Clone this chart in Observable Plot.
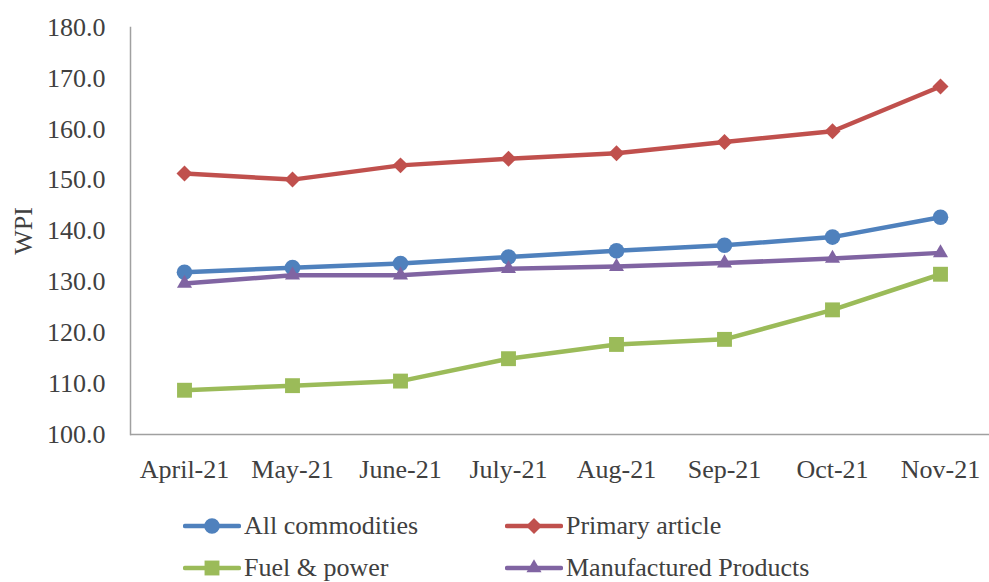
<!DOCTYPE html>
<html>
<head>
<meta charset="utf-8">
<script src="https://cdn.jsdelivr.net/npm/d3@7"></script>
<script src="https://cdn.jsdelivr.net/npm/@observablehq/plot@0.6"></script>
<style>
  html, body { margin: 0; padding: 0; background: #fff; }
  body { width: 989px; height: 582px; overflow: hidden; font-family: "Liberation Serif", serif; color: #404040; }
  #legend { display: grid; grid-template-columns: 322px 322px; grid-auto-rows: 42px; padding-left: 183px; margin-top: 15px; }
  .item { display: flex; align-items: center; font-size: 26px; line-height: 30px; white-space: nowrap; }
  .item svg { flex: none; margin-right: 3px; }
</style>
</head>
<body>
<div id="chart"></div>
<div id="legend"></div>
<script>
// ---- data ----
const months = ["April-21", "May-21", "June-21", "July-21", "Aug-21", "Sep-21", "Oct-21", "Nov-21"];
const allCommodities = [131.9, 132.8, 133.6, 134.9, 136.1, 137.2, 138.8, 142.7];
const primaryArticle = [151.3, 150.1, 152.9, 154.2, 155.3, 157.5, 159.6, 168.4];
const fuelPower      = [108.7, 109.6, 110.5, 114.9, 117.7, 118.7, 124.5, 131.5];
const manufactured   = [129.7, 131.3, 131.3, 132.6, 133.0, 133.7, 134.6, 135.7];
const seriesNames = ["All commodities", "Primary article", "Fuel & power", "Manufactured Products"];
const yTicks = [100, 110, 120, 130, 140, 150, 160, 170, 180];

// ---- styling ----
const colors  = ["#4F81BD", "#C0504D", "#9BBB59", "#8064A2"];
const symbols = ["circle", "diamond2", "square", "triangle"];
const radii   = [7.8, 7.2, 8.4, 5.6];
const d3Symbols = { circle: d3.symbolCircle, diamond2: d3.symbolDiamond2, square: d3.symbolSquare, triangle: d3.symbolTriangle };

const valueSets = [allCommodities, primaryArticle, fuelPower, manufactured];
const series = seriesNames.map((name, i) => ({
  name, color: colors[i], symbol: symbols[i], r: radii[i],
  data: months.map((m, j) => ({ month: m, value: valueSets[i][j] }))
}));

const marks = [
  Plot.ruleY([100], { stroke: "#a0a0a0", strokeWidth: 1.5 }),
  Plot.frame({ anchor: "left", stroke: "#a0a0a0", strokeWidth: 1.5 }),
  Plot.axisX({ tickSize: 0, tickPadding: 25, label: null }),
  Plot.axisY({ ticks: yTicks, tickSize: 0, tickPadding: 25, tickFormat: d3.format(".1f"),
               label: "WPI", labelAnchor: "center", labelArrow: "none", labelOffset: 117, fontSize: 26 })
];
for (const s of series) {
  marks.push(Plot.line(s.data, { x: "month", y: "value", stroke: s.color, strokeWidth: 4.5 }));
  marks.push(Plot.dot(s.data, { x: "month", y: "value", fill: s.color, symbol: s.symbol, r: s.r, stroke: "none" }));
}

const chart = Plot.plot({
  width: 989,
  height: 490,
  marginTop: 27,
  marginBottom: 56,
  marginLeft: 130,
  marginRight: 0,
  style: { fontFamily: "Liberation Serif", fontSize: "26px", color: "#404040", background: "#fff", overflow: "visible" },
  x: { type: "point", domain: months, range: [130, 994], padding: 0.5 },
  y: { domain: [100, 180] },
  marks
});
document.getElementById("chart").appendChild(chart);

// ---- legend ----
const legend = d3.select("#legend");
for (const s of series) {
  const item = legend.append("div").attr("class", "item");
  const svg = item.append("svg").attr("width", 58).attr("height", 22);
  svg.append("line").attr("x1", 2).attr("x2", 56).attr("y1", 11).attr("y2", 11)
    .attr("stroke", s.color).attr("stroke-width", 4.5).attr("stroke-linecap", "round");
  svg.append("path").attr("transform", "translate(29,11)")
    .attr("d", d3.symbol(d3Symbols[s.symbol], Math.PI * s.r * s.r)()).attr("fill", s.color);
  item.append("span").text(s.name);
}
</script>
</body>
</html>
